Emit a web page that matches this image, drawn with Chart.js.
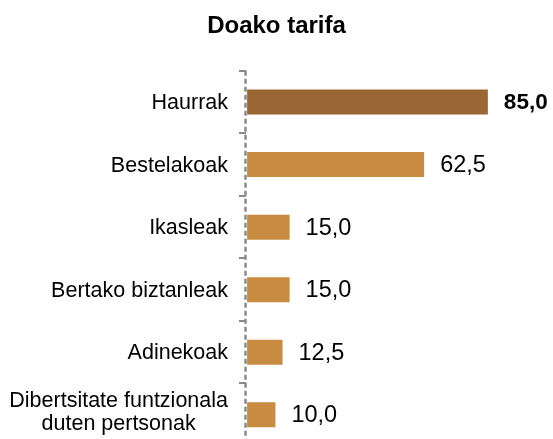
<!DOCTYPE html>
<html>
<head>
<meta charset="utf-8">
<script src="https://cdn.jsdelivr.net/npm/chart.js@4.4.1/dist/chart.umd.min.js"></script>
<style>
  html, body { margin:0; padding:0; background:#fff; overflow:hidden; }
  #wrap { width:553px; height:450px; }
</style>
</head>
<body>
<div id="wrap"><canvas id="c" width="553" height="450"></canvas></div>
<script>
// data
const categories = [
  'Haurrak',
  'Bestelakoak',
  'Ikasleak',
  'Bertako biztanleak',
  'Adinekoak',
  ['Dibertsitate funtzionala', 'duten pertsonak']
];
const values = [85.0, 62.5, 15.0, 15.0, 12.5, 10.0];
const highlight = [true, false, false, false, false, false];
const chartTitle = 'Doako tarifa';

const FONT = '"Liberation Sans", Arial, sans-serif';
const dark = '#9A6634', light = '#C78B42', axisGrey = '#8a8a8a';

const fmt = v => v.toFixed(1).replace('.', ',');

// dashed axis line, drawn under the bars
const axisPlugin = {
  id: 'dashAxis',
  beforeDatasetsDraw(chart){
    const { ctx } = chart;
    const ys = chart.scales.y;
    ctx.save();
    ctx.strokeStyle = axisGrey;
    ctx.lineWidth = 2.5;
    ctx.setLineDash([5, 3]);
    ctx.beginPath();
    ctx.moveTo(ys.right - 0.5, ys.top);
    ctx.lineTo(ys.right - 0.5, ys.bottom);
    ctx.stroke();
    ctx.restore();
  }
};

// category labels (multi-line centred) + value labels at bar ends
const labelsPlugin = {
  id: 'labels',
  afterDatasetsDraw(chart){
    const { ctx } = chart;
    const ys = chart.scales.y;
    const meta = chart.getDatasetMeta(0);
    ctx.save();
    ctx.fillStyle = '#000';
    ctx.textBaseline = 'middle';

    ctx.font = `21.5px ${FONT}`;
    const rightX = 228, lh = 23;
    categories.forEach((lab, i) => {
      const lines = Array.isArray(lab) ? lab : [lab];
      const y = ys.getPixelForValue(i) + (lines.length > 1 ? -2 : 1);
      const w = Math.max(...lines.map(l => ctx.measureText(l).width));
      const cx = rightX - w / 2;
      ctx.textAlign = 'center';
      lines.forEach((l, k) => {
        ctx.fillText(l, cx, y + (k - (lines.length - 1) / 2) * lh);
      });
    });

    ctx.textAlign = 'left';
    meta.data.forEach((bar, i) => {
      ctx.font = highlight[i] ? `bold 22.5px ${FONT}` : `23.5px ${FONT}`;
      ctx.fillText(fmt(values[i]), bar.x + 16, bar.y + 1);
    });
    ctx.restore();
  }
};

new Chart(document.getElementById('c'), {
  type: 'bar',
  data: {
    labels: categories,
    datasets: [{
      data: values,
      backgroundColor: highlight.map(h => h ? dark : light),
      borderWidth: 0,
      categoryPercentage: 0.8,
      barPercentage: 0.5
    }]
  },
  options: {
    indexAxis: 'y',
    responsive: false,
    animation: false,
    layout: { padding: { left: 0, right: 0, top: 0, bottom: 4 } },
    plugins: {
      legend: { display: false },
      tooltip: { enabled: false },
      title: {
        display: true,
        text: chartTitle,
        color: '#000',
        font: { family: FONT, size: 24, weight: 'bold', lineHeight: 1.2 },
        padding: { top: 12, bottom: 30 }
      }
    },
    scales: {
      x: { display: false, min: -0.4, max: 108 },
      y: {
        afterFit(scale){ scale.width = 246; },
        ticks: { display: false },
        grid: {
          drawOnChartArea: false,
          drawTicks: true,
          tickLength: 7,
          color: axisGrey,
          lineWidth: 2
        },
        border: { display: false }
      }
    }
  },
  plugins: [axisPlugin, labelsPlugin]
});
</script>
</body>
</html>
